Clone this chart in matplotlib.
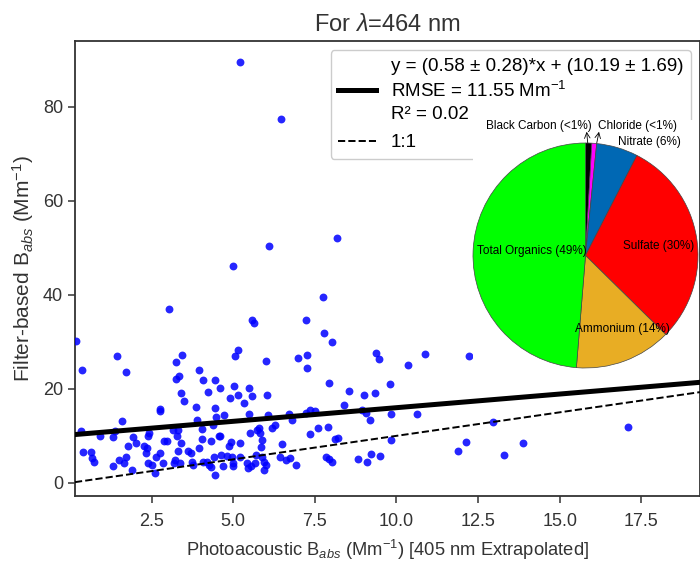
import matplotlib
matplotlib.use("Agg")
import matplotlib.pyplot as plt
import numpy as np

plt.rcParams['font.family'] = ['Liberation Sans', 'DejaVu Sans']
plt.rcParams['mathtext.fontset'] = 'custom'
plt.rcParams['mathtext.rm'] = 'Liberation Sans'
plt.rcParams['mathtext.it'] = 'Liberation Sans:italic'
plt.rcParams['mathtext.bf'] = 'Liberation Sans:bold'

# photoacoustic (x) vs filter-based (y) absorption, Mm^-1
pa_babs = [
    0.18, 0.36, 0.34, 0.41, 0.63, 0.68, 0.72, 0.92, 1.31, 1.38, 1.45, 1.60, 1.51, 1.64,
    1.71, 1.31, 1.72, 1.77, 1.89, 1.94, 2.02, 2.27, 2.33, 2.37, 2.38, 2.42, 2.40, 2.50,
    2.61, 2.74, 2.74, 2.76, 2.84, 2.89, 2.97, 3.04, 3.14, 3.17, 3.22, 3.23, 3.25, 3.27,
    3.30, 3.34, 3.32, 3.40, 3.43, 3.40, 3.38, 3.48, 3.60, 3.70, 3.73, 3.78, 3.87, 3.89,
    3.96, 3.94, 4.04, 4.07, 4.05, 4.07, 4.19, 4.22, 4.27, 4.33, 4.37, 4.43, 4.43, 4.45,
    4.48, 4.40, 4.58, 4.55, 4.60, 4.62, 4.68, 4.73, 4.81, 4.89, 4.88, 4.93, 4.98, 4.99,
    5.03, 5.05, 5.15, 5.15, 5.22, 5.21, 5.33, 5.42, 5.45, 5.47, 5.47, 5.52, 5.57, 5.54,
    5.57, 5.62, 5.65, 5.73, 5.78, 5.83, 5.88, 5.85, 5.88, 5.93, 5.95, 6.00, 6.03, 6.06,
    6.01, 6.19, 6.29, 6.49, 6.44, 6.60, 6.73, 6.70, 6.80, 6.91, 6.98, 7.23, 7.26, 7.27,
    7.23, 7.36, 7.36, 7.49, 7.59, 7.75, 7.79, 7.92, 7.89, 7.85, 7.92, 8.01, 8.03, 8.11,
    8.20, 8.38, 8.54, 5.20, 6.47, 4.98, 6.10, 8.18, 2.62, 4.33, 4.96, 5.70,
    9.36, 9.46, 10.36, 10.86, 12.23, 9.02, 9.35, 9.81, 8.93, 9.08, 9.20, 9.83, 10.63,
    9.84, 12.97, 17.10, 8.83, 9.09, 9.21, 9.48, 11.89, 12.12, 13.30, 13.87,
]
filter_babs = [
    30.2, 24.0, 11.1, 6.6, 6.5, 5.3, 4.5, 10.0, 9.7, 11.1, 27.0, 13.1, 4.9, 4.2,
    5.5, 3.6, 23.6, 7.9, 2.8, 9.7, 8.4, 7.9, 6.3, 7.4, 9.9, 10.7, 4.2, 3.8,
    2.1, 6.3, 15.3, 15.7, 4.3, 8.9, 8.8, 37.0, 11.3, 4.3, 4.9, 25.7, 22.1, 9.9,
    11.3, 22.8, 6.7, 19.2, 27.2, 8.4, 4.3, 17.5, 6.7, 6.3, 4.5, 3.8, 16.1, 13.4,
    24.0, 7.4, 9.3, 21.9, 11.4, 4.5, 4.5, 19.3, 3.8, 3.3, 12.2, 21.9, 16.0, 1.6,
    14.0, 5.6, 20.1, 9.9, 10.0, 6.0, 3.5, 14.5, 5.7, 18.1, 7.9, 8.7, 3.5, 4.2,
    20.6, 26.9, 28.2, 18.7, 8.4, 5.6, 17.0, 4.3, 3.1, 20.1, 14.7, 10.5, 18.4, 3.5,
    34.7, 34.0, 4.2, 11.3, 11.6, 10.6, 9.1, 7.7, 5.6, 4.5, 2.8, 26.0, 18.7, 14.5,
    3.8, 11.6, 12.3, 8.3, 5.6, 4.9, 5.3, 14.7, 13.4, 3.7, 26.5, 34.7, 24.4, 27.1,
    14.8, 15.5, 10.4, 15.2, 11.6, 39.6, 31.8, 21.3, 11.9, 5.6, 5.0, 4.5, 29.9, 9.3,
    9.5, 16.6, 19.6, 89.5, 77.4, 46.2, 50.3, 52.0, 5.4, 9.0, 5.6, 6.0,
    27.7, 26.3, 25.1, 27.4, 26.9, 18.7, 19.2, 21.1, 15.5, 14.8, 13.4, 14.7, 14.6,
    9.1, 13.0, 11.9, 5.1, 4.5, 6.2, 5.8, 6.8, 8.6, 5.9, 8.4,
]

# linear fit results
slope, slope_err = 0.58, 0.28
intercept, intercept_err = 10.19, 1.69
rmse = 11.55
r_squared = 0.02

# aerosol composition
species = ['Black Carbon', 'Chloride', 'Nitrate', 'Sulfate', 'Ammonium', 'Total Organics']
fractions = [0.9, 0.7, 6.0, 30.0, 14.0, 49.0]
species_colors = ['black', '#ff00ff', '#0068b4', '#ff0000', '#e8ad24', '#00ff00']

fig = plt.figure(figsize=(7, 5.62), dpi=100)
ax = fig.add_axes([75 / 700, 66 / 562, 625 / 700, 455 / 562])

ax.scatter(pa_babs, filter_babs, s=32, color='blue', alpha=0.85, linewidths=0, zorder=3)

xlim = (0.15, 19.3)
xs = np.array(xlim)
fit_label = ('y = ({:.2f} ± {:.2f})*x + ({:.2f} ± {:.2f})\n'
             'RMSE = {:.2f} Mm$^{{-1}}$\nR² = {:.2f}').format(
    slope, slope_err, intercept, intercept_err, rmse, r_squared)
ax.plot(xs, slope * xs + intercept, color='black', lw=3.6, label=fit_label, zorder=4)
ax.plot(xs, xs, color='black', lw=1.4, ls='--', label='1:1', zorder=4)

ax.set_xlim(*xlim)
ax.set_ylim(-2.8, 94)
ax.set_xticks([2.5, 5.0, 7.5, 10.0, 12.5, 15.0, 17.5])
ax.set_yticks([0, 20, 40, 60, 80])
for sp in ax.spines.values():
    sp.set_color('#333333')
    sp.set_linewidth(1.3)
ax.tick_params(labelsize=13, colors='#333333', length=5, width=1.1)
ax.tick_params(axis='x', pad=7)

ax.set_xlabel('Photoacoustic B$_{abs}$ (Mm$^{-1}$) [405 nm Extrapolated]',
              fontsize=13.2, color='#333333', labelpad=6)
ax.set_ylabel('Filter-based B$_{abs}$ (Mm$^{-1}$)', fontsize=15, color='#333333', labelpad=5)
ax.set_title('For $\\lambda$=464 nm', fontsize=17, color='#333333', pad=7)

leg = ax.legend(loc='upper right', fontsize=13.5, framealpha=1.0, edgecolor='#cccccc',
                handlelength=2.0, labelspacing=0.6)
leg.get_texts()[0].set_linespacing(1.38)

# composition pie as an inset; its white patch sits over the legend corner
pie_top, pie_bottom, pie_r = 135.5, 113.5, 112.5
pax = fig.add_axes([473 / 700, (562 - 369) / 562, 225 / 700, (pie_top + pie_bottom) / 562])
total = sum(fractions)
wedges, _ = pax.pie(fractions, colors=species_colors, startangle=90, counterclock=False,
                    wedgeprops=dict(edgecolor='#444444', linewidth=0.5))
pax.set_aspect('auto')
pax.set_xlim(-1.0, 1.0)
pax.set_ylim(-pie_bottom / pie_r, pie_top / pie_r)
pax.set_frame_on(True)
pax.patch.set_facecolor('white')
for sp in pax.spines.values():
    sp.set_visible(False)


def pct_text(v):
    p = 100 * v / total
    return '(<1%)' if p < 1 else '({:.0f}%)'.format(p)


labels = ['{} {}'.format(s, pct_text(v)) for s, v in zip(species, fractions)]
inside = {3: (0.65, 0.08), 4: (0.33, -0.65), 5: (-0.48, 0.04)}
for i, (x, y) in inside.items():
    pax.text(x, y, labels[i], fontsize=8.5, ha='center', va='center')
pax.text(0.57, 1.01, labels[2], fontsize=8.5, ha='center', va='center')
pax.text(0.06, 1.15, labels[0], fontsize=8.5, ha='right', va='center')
pax.text(0.11, 1.15, labels[1], fontsize=8.5, ha='left', va='center')
pax.annotate('', xy=(0.01, 1.10), xytext=(0.02, 1.0),
             arrowprops=dict(arrowstyle='->', lw=0.6, color='black', shrinkA=0, shrinkB=0))
pax.annotate('', xy=(0.12, 1.10), xytext=(0.10, 1.0),
             arrowprops=dict(arrowstyle='->', lw=0.6, color='black', shrinkA=0, shrinkB=0))

fig.savefig('out.png', dpi=100)
